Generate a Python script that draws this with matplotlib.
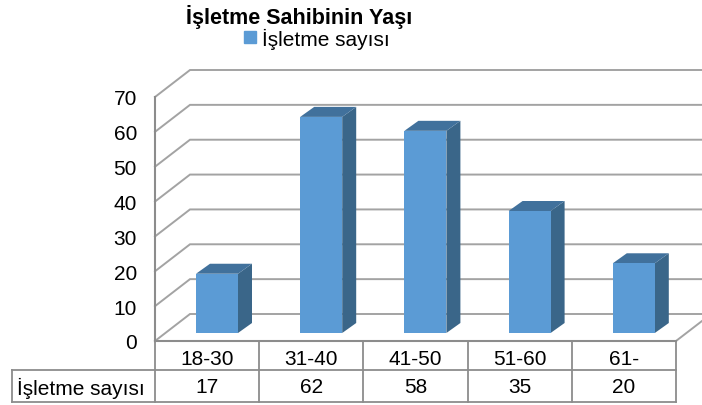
import matplotlib
matplotlib.use('Agg')
import matplotlib.pyplot as plt
import matplotlib.patches as mpatches
from matplotlib.patches import Polygon

plt.rcParams['font.family'] = ['Liberation Sans', 'DejaVu Sans']

categories = ['18-30', '31-40', '41-50', '51-60', '61-']
values = [17, 62, 58, 35, 20]
yticks = [0, 10, 20, 30, 40, 50, 60, 70]
series_name = 'İşletme sayısı'
title = 'İşletme Sahibinin Yaşı'

W, H = 702, 406
fig = plt.figure(figsize=(W / 100, H / 100), dpi=100)
# axes box = front plane of the 3d chart, pixels
left, right, top, bottom = 155, 676, 98, 342
ax = fig.add_axes([left / W, 1 - bottom / H, (right - left) / W, (bottom - top) / H])
ax.set_xlim(0, 5)
ax.set_ylim(0, 70)
ax.patch.set_visible(False)

px = 5 / (right - left)   # one pixel in x units
py = 70 / (bottom - top)  # one pixel in y units
wall_dx, wall_dy = 35 * px, 27 * py
grid_c = '#a3a3a3'
axis_c = '#8c8c8c'

# walls / gridlines
xmax = (702 - left) * px
for t in yticks:
    ax.plot([0, wall_dx, xmax], [t, t + wall_dy, t + wall_dy], color=grid_c, lw=1.4,
            clip_on=False, zorder=1, solid_joinstyle='miter')
ax.plot([5, 5 + 26 * px], [0, 20 * py], color=grid_c, lw=1.4, clip_on=False, zorder=1)

# bars
bar_w = 42 * px
dx, dy = 14 * px, 10 * py
base = 8 * py
front_c, side_c, top_c = '#5b9bd5', '#3a6689', '#41719c'
for i, v in enumerate(values):
    x0 = i + 0.5 + 0.095 - bar_w / 2
    x1 = x0 + bar_w
    y0, y1 = base, base + v
    ax.add_patch(Polygon([(x1, y0), (x1 + dx, y0 + dy), (x1 + dx, y1 + dy), (x1, y1)],
                         fc=side_c, ec='none', clip_on=False, zorder=3))
    ax.add_patch(Polygon([(x0, y1), (x1, y1), (x1 + dx, y1 + dy), (x0 + dx, y1 + dy)],
                         fc=top_c, ec='none', clip_on=False, zorder=3))
    ax.bar(x0, v, width=bar_w, bottom=base, align='edge', color=front_c, zorder=4, clip_on=False)

for s in ['top', 'right', 'bottom']:
    ax.spines[s].set_visible(False)
ax.spines['left'].set_color(axis_c)
ax.spines['left'].set_linewidth(1.5)
ax.set_yticks(yticks)
ax.set_xticks([])
ax.tick_params(axis='y', length=0, pad=13, labelsize=15)

# data table under the axis
row = 29 * py
low = -2 * row - 3 * py
tx0 = (12 - left) * px
ax.plot([0, 5], [0, 0], color=axis_c, lw=1.5, clip_on=False, zorder=5)
ax.plot([tx0, 5], [-row, -row], color=axis_c, lw=1.3, clip_on=False)
ax.plot([tx0, 5], [low, low], color=axis_c, lw=1.3, clip_on=False)
for i in range(6):
    ax.plot([i, i], [0, low], color=axis_c, lw=1.3, clip_on=False)
ax.plot([tx0, tx0], [-row, low], color=axis_c, lw=1.3, clip_on=False)
for i, (c, v) in enumerate(zip(categories, values)):
    ax.text(i + 0.5, -row / 2 - 3 * py, c, ha='center', va='center', fontsize=15, clip_on=False)
    ax.text(i + 0.5, (low - row) / 2 - 1 * py, str(v), ha='center', va='center', fontsize=15, clip_on=False)
ax.text((17 - left) * px, (low - row) / 2 - 1 * py, series_name, ha='left', va='center', fontsize=15, clip_on=False)

fig.text(299.5 / W, 1 - 17 / H, title, ha='center', va='center', fontsize=15.5, fontweight='bold')
blue_patch = mpatches.Patch(color=front_c, label=series_name)
fig.legend(handles=[blue_patch], loc='center', bbox_to_anchor=(317 / W, 1 - 39 / H), frameon=False,
           fontsize=15, handlelength=0.55, handleheight=0.55, handletextpad=0.3,
           borderpad=0, labelspacing=0)

fig.savefig('out.png', dpi=100)
